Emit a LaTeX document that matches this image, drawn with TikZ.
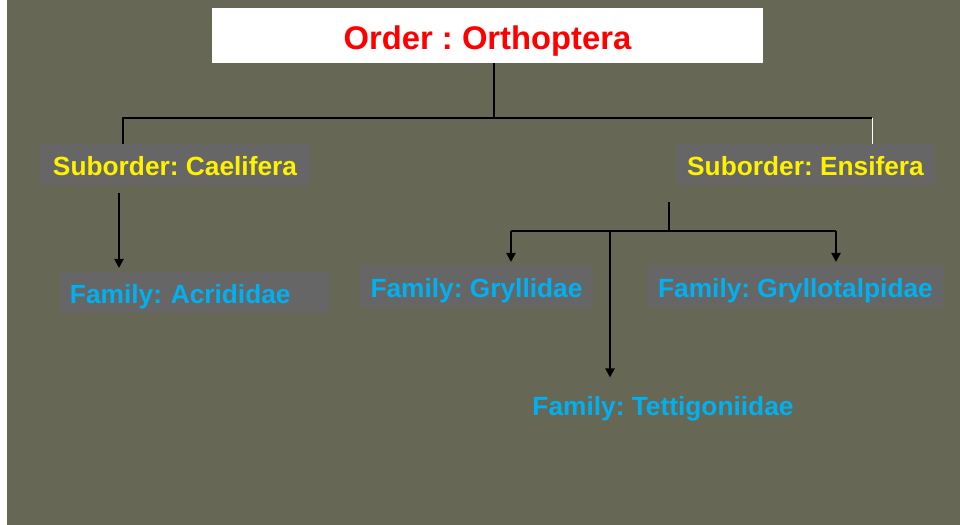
\documentclass[tikz,border=0pt]{standalone}
\usepackage{fontspec}
\setmainfont{Liberation Sans}
\usetikzlibrary{arrows.meta}
\definecolor{slide}{RGB}{102,104,85}
\definecolor{boxgray}{RGB}{102,102,102}
\definecolor{famblue}{RGB}{0,176,240}
\frenchspacing
\begin{document}
\begin{tikzpicture}[x=0.025cm,y=-0.025cm,inner sep=0pt,outer sep=0pt,
rankbox/.style={fill=boxgray,rectangle,minimum height=1.025cm,text height=20.8pt,text depth=4.5pt,font=\fontsize{18.7}{22}\selectfont\bfseries},
suborder/.style={rankbox,text=yellow},
family/.style={rankbox,text=famblue},
link/.style={line width=1.4pt},
arr/.style={link,-{Triangle[width=6.5pt,length=6.5pt]}}]
\fill[white] (0,0) rectangle (960,525);
\fill[slide] (7,0) rectangle (960,525);
\draw (487.5,35.5) node[fill=white,minimum width=13.775cm,minimum height=1.375cm,text height=25.6pt,text depth=5pt,text=red,font=\fontsize{23.3}{26}\selectfont\bfseries] (order) {Order : Orthoptera};
\draw (175,164.5) node[suborder,minimum width=6.75cm] (cael) {Suborder: Caelifera};
\draw (805.5,164.5) node[suborder,minimum width=6.475cm] (ens) {Suborder: Ensifera};
\draw (194.5,292.5) node[family,text width=6.225cm,inner xsep=0.25cm,align=left] (acri) {Family: Acrididae};
\draw (476.5,286) node[family,minimum width=5.825cm,minimum height=1.05cm] (gryl) {Family: Gryllidae};
\draw (795.5,286) node[family,minimum width=7.425cm,minimum height=1.05cm] (grta) {Family: Gryllotalpidae};
\draw (663,404) node[family,fill=none] (tett) {Family: Tettigoniidae};
% order to suborders
\coordinate (bar) at (494,118);
\coordinate (barL) at (123,118);
\coordinate (barR) at (872,118);
\draw[link] (order.south -| bar) -- (bar);
\draw[link] (barL |- cael.north) -- (barL) -- (barR);
\draw[white,thin] (barR) -- (barR |- ens.north);
% Caelifera
\coordinate (cdrop) at (119,193);
\draw[arr,shorten >=0.1cm] (cdrop) -- (cdrop |- acri.north);
% Ensifera
\coordinate (ehub) at (669,231);
\coordinate (gL) at (511,231);
\coordinate (gR) at (836,231);
\coordinate (tJ) at (610,231);
\draw[link] (ens.south -| ehub) ++(0,17) -- (ehub);
\draw[link] (gL) -- (gR);
\draw[arr,shorten >=0.075cm] (gL) -- (gL |- gryl.north);
\draw[arr,shorten >=0.075cm] (gR) -- (gR |- grta.north);
\draw[arr,shorten >=0.15cm] (tJ) -- (tJ |- tett.north);
\end{tikzpicture}
\end{document}
